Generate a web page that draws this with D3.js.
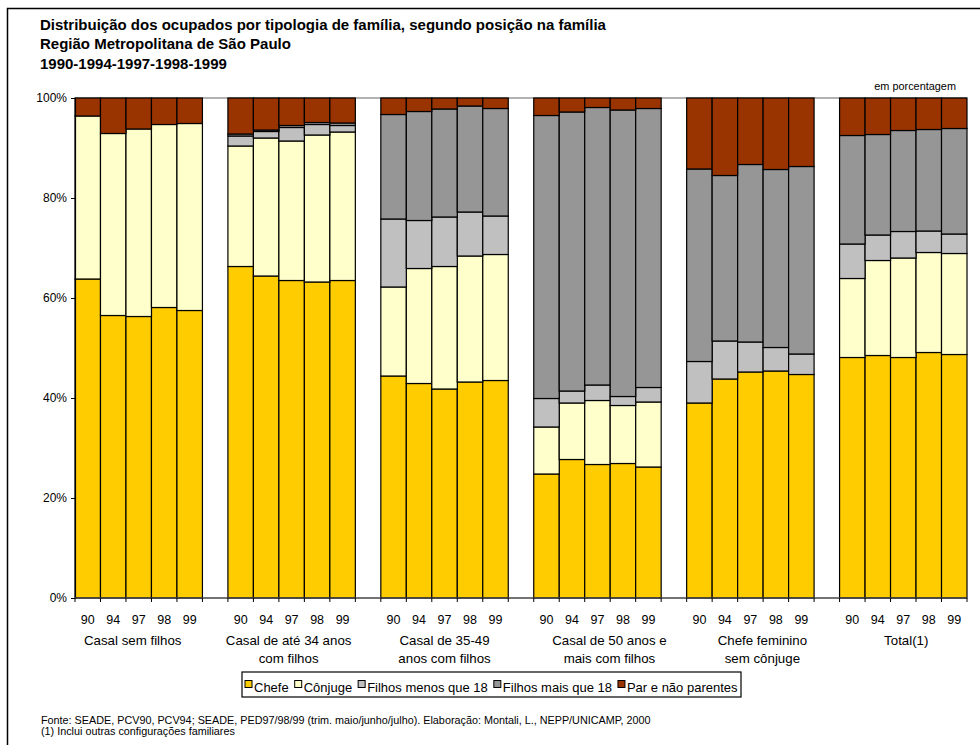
<!DOCTYPE html>
<html>
<head>
<meta charset="utf-8">
<script src="https://cdn.jsdelivr.net/npm/d3@7"></script>
<style>
  body { margin: 0; background: #fff; }
  svg { font-family: "Liberation Sans", Arial, sans-serif; }
</style>
</head>
<body>
<div class="canvas"></div>
<script>
// categories
const groups = [
  ["Casal sem filhos"],
  ["Casal de até 34 anos", "com filhos"],
  ["Casal de 35-49", "anos com filhos"],
  ["Casal de 50 anos e", "mais com filhos"],
  ["Chefe feminino", "sem cônjuge"],
  ["Total(1)"]
];
const years = ["90", "94", "97", "98", "99"];
const seriesNames = ["Chefe", "Cônjuge", "Filhos menos que 18", "Filhos mais que 18", "Par e não parentes"];
const colors = ["#ffcc00", "#ffffcc", "#c0c0c0", "#969696", "#993300"];
const yTicks = [0, 20, 40, 60, 80, 100];

// values per series, 6 groups x 5 years (percent)
const chefe = [
  63.8, 56.5, 56.3, 58.1, 57.5,
  66.3, 64.4, 63.5, 63.2, 63.5,
  44.4, 42.9, 41.8, 43.2, 43.5,
  24.8, 27.7, 26.7, 26.9, 26.2,
  39.0, 43.8, 45.2, 45.4, 44.7,
  48.1, 48.5, 48.1, 49.1, 48.7
];
const conjuge = [
  32.6, 36.4, 37.5, 36.6, 37.4,
  24.1, 27.6, 27.9, 29.4, 29.7,
  17.8, 23.0, 24.5, 25.2, 25.2,
  9.4, 11.3, 12.8, 11.6, 13.0,
  0, 0, 0, 0, 0,
  15.8, 19.0, 19.9, 20.0, 20.2
];
const filhosMenos = [
  0, 0, 0, 0, 0,
  2.0, 1.3, 2.7, 2.1, 1.3,
  13.6, 9.6, 9.9, 8.8, 7.7,
  5.7, 2.4, 3.1, 1.8, 2.9,
  8.3, 7.6, 6.0, 4.7, 4.1,
  6.9, 5.1, 5.3, 4.3, 3.9
];
const filhosMais = [
  0, 0, 0, 0, 0,
  0.4, 0.3, 0.4, 0.4, 0.5,
  20.9, 21.8, 21.6, 21.2, 21.5,
  56.6, 55.8, 55.5, 57.3, 55.8,
  38.5, 33.1, 35.5, 35.6, 37.5,
  21.7, 20.1, 20.2, 20.3, 21.1
];
const parNao = [
  3.6, 7.1, 6.2, 5.3, 5.1,
  7.2, 6.4, 5.5, 4.9, 5.0,
  3.3, 2.7, 2.2, 1.6, 2.1,
  3.5, 2.8, 1.9, 2.4, 2.1,
  14.2, 15.5, 13.3, 14.3, 13.7,
  7.5, 7.3, 6.5, 6.3, 6.1
];

const seriesValues = [chefe, conjuge, filhosMenos, filhosMais, parNao];

// build rows and slot keys (gap slot between groups)
const rows = [];
const slots = [];
groups.forEach((g, gi) => {
  years.forEach((yr, yi) => {
    const key = gi + "-" + yr;
    slots.push(key);
    const row = { key: key, year: yr, group: gi };
    seriesNames.forEach((s, si) => { row[s] = seriesValues[si][gi * 5 + yi]; });
    rows.push(row);
  });
  if (gi < groups.length - 1) slots.push("gap" + gi);
});

const svg = d3.select(".canvas").append("svg").attr("width", 980).attr("height", 745);

// outer frame (cut off at right/bottom like the picture)
svg.append("rect")
  .attr("x", 7.5).attr("y", 8.5)
  .attr("width", 990).attr("height", 760)
  .attr("fill", "none").attr("stroke", "#000").attr("stroke-width", 1.5);

// title
const titleLines = [
  "Distribuição dos ocupados por tipologia de família, segundo posição na família",
  "Região Metropolitana de São Paulo",
  "1990-1994-1997-1998-1999"
];
svg.selectAll(".title").data(titleLines).enter().append("text")
  .attr("x", 40).attr("y", (d, i) => 29.5 + i * 19.5)
  .attr("font-size", 15).attr("font-weight", "bold").attr("fill", "#000")
  .text((d) => d);

svg.append("text")
  .attr("x", 956).attr("y", 90)
  .attr("text-anchor", "end").attr("font-size", 10.9).attr("fill", "#000")
  .text("em porcentagem");

const plotLeft = 75, plotRight = 967, plotTop = 98, plotBottom = 598;

const x = d3.scaleBand().domain(slots).range([plotLeft, plotRight]).paddingInner(0).paddingOuter(0);
const y = d3.scaleLinear().domain([0, 100]).range([plotBottom, plotTop]);

// top gridline
svg.append("line")
  .attr("x1", plotLeft).attr("x2", plotRight)
  .attr("y1", y(100)).attr("y2", y(100))
  .attr("stroke", "#999").attr("stroke-width", 1.5);

const stack = d3.stack().keys(seriesNames);
const stacked = stack(rows);

const bw = x.bandwidth();

svg.append("g").selectAll("g")
  .data(stacked).enter().append("g")
  .attr("fill", (d, i) => colors[i])
  .selectAll("rect")
  .data((d) => d.filter((p) => p[1] - p[0] > 0))
  .enter().append("rect")
  .attr("x", (d) => x(d.data.key))
  .attr("width", bw)
  .attr("y", (d) => y(d[1]))
  .attr("height", (d) => y(d[0]) - y(d[1]))
  .attr("stroke", "#000").attr("stroke-width", 1.2);

// y axis
const yAxis = d3.axisLeft(y).tickValues(yTicks).tickFormat((d) => d + "%").tickSize(4).tickPadding(4);
const yg = svg.append("g").attr("transform", `translate(${plotLeft},0)`).call(yAxis);
yg.select(".domain").attr("stroke", "#000").attr("stroke-width", 1.2);
yg.selectAll("line").attr("stroke", "#000");
yg.selectAll("text").attr("font-size", 12).attr("fill", "#000")
  .attr("font-family", "Liberation Sans, Arial, sans-serif");

// x axis: line + ticks at every slot boundary
svg.append("line")
  .attr("x1", plotLeft).attr("x2", plotRight)
  .attr("y1", plotBottom).attr("y2", plotBottom)
  .attr("stroke", "#444").attr("stroke-width", 1.5);
const bounds = slots.map((s) => x(s)).concat([plotRight]);
svg.append("g").selectAll("line").data(bounds).enter().append("line")
  .attr("x1", (d) => d).attr("x2", (d) => d)
  .attr("y1", plotBottom).attr("y2", plotBottom + 4)
  .attr("stroke", "#000");

// year labels
svg.append("g").selectAll("text").data(rows).enter().append("text")
  .attr("x", (d) => x(d.key) + bw / 2)
  .attr("y", 624)
  .attr("text-anchor", "middle").attr("font-size", 12.5).attr("fill", "#000")
  .text((d) => d.year);

// group labels (excel nudged some of them)
const labelShift = [-6, -3, 0, 12, 12, 3];
groups.forEach((g, gi) => {
  const cx = (x(gi + "-90") + x(gi + "-99") + bw) / 2 + labelShift[gi];
  svg.append("text")
    .attr("x", cx).attr("y", 645)
    .attr("text-anchor", "middle").attr("font-size", 13.3).attr("fill", "#000")
    .selectAll("tspan").data(g).enter().append("tspan")
    .attr("x", cx).attr("dy", (d, i) => (i === 0 ? 0 : 18))
    .text((d) => d);
});

// legend
const legend = svg.append("g");
legend.append("rect")
  .attr("x", 242).attr("y", 672).attr("width", 499).attr("height", 25)
  .attr("fill", "#fff").attr("stroke", "#000").attr("stroke-width", 1.2);
let lx = 245;
seriesNames.forEach((s, i) => {
  legend.append("rect")
    .attr("x", lx).attr("y", 680.5).attr("width", 7).attr("height", 7)
    .attr("fill", colors[i]).attr("stroke", "#000");
  const t = legend.append("text")
    .attr("x", lx + 9).attr("y", 692)
    .attr("font-size", 13).attr("fill", "#000")
    .text(s);
  lx += 9 + t.node().getComputedTextLength() + 6;
});

// footer
const notes = [
  "Fonte: SEADE, PCV90, PCV94; SEADE, PED97/98/99 (trim. maio/junho/julho). Elaboração: Montali, L., NEPP/UNICAMP, 2000",
  "(1) Inclui outras configurações familiares"
];
svg.selectAll(".note").data(notes).enter().append("text")
  .attr("x", 41).attr("y", (d, i) => 724 + i * 11)
  .attr("font-size", 10.8).attr("fill", "#000")
  .text((d) => d);
</script>
</body>
</html>
